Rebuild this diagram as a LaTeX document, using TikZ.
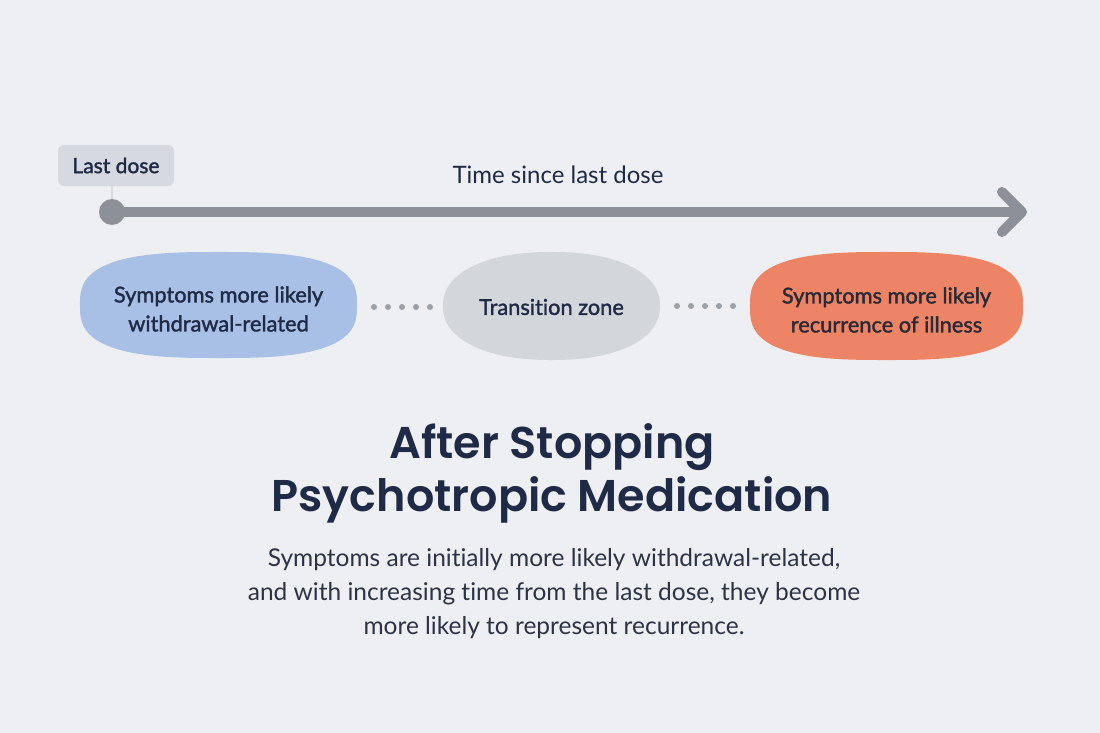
\documentclass[tikz,border=0pt]{standalone}
\usepackage{fontspec}
\setmainfont{Lato}[Ligatures={NoCommon}]
\newfontfamily\titlefont{Poppins SemiBold}
\newfontfamily\medfont[FakeBold=1.6,Ligatures={NoCommon}]{Lato}
\usetikzlibrary{calc}
\definecolor{bg}{HTML}{EEEFF2}
\definecolor{navy}{HTML}{1F2B46}
\definecolor{axis}{HTML}{8C9199}
\definecolor{tagfill}{HTML}{D6DAE0}
\definecolor{bluefill}{HTML}{A9C0E6}
\definecolor{grayfill}{HTML}{D3D6DB}
\definecolor{orangefill}{HTML}{EE8466}
\definecolor{dotgray}{HTML}{9CA1A8}
\definecolor{bodytxt}{HTML}{2B3345}
\definecolor{orangetxt}{HTML}{2A2A36}
\tikzset{
  blobtext/.style={align=center, font=\medfont\fontsize{21.8}{29}\selectfont, text=navy, inner sep=0pt},
  dotline/.style={dotgray, line width=6pt, line cap=round, dash pattern=on 0pt off 14pt},
}
% superellipse: #1 centre, #2 half width, #3 half height, #4 exponent 2/n, #5 colour
\newcommand{\superblob}[5]{%
  \fill[#5, shift={(#1)}] plot[domain=1:361, samples=121, variable=\t, smooth]
    ({#2*sign(cos(\t))*abs(cos(\t))^(#4)}, {#3*sign(sin(\t))*abs(sin(\t))^(#4)}) -- cycle;}
\begin{document}
\begin{tikzpicture}[x=1pt,y=-1pt]
\fill[bg] (0,0) rectangle (1100,733);
\useasboundingbox (0,0) rectangle (1100,733);
% tag
\node[fill=tagfill, rounded corners=6pt, minimum width=116pt, minimum height=41pt,
  font=\medfont\fontsize{21}{24}\selectfont, text=navy, inner sep=0pt] (tag) at (116,165.5) {Last dose};
\node[circle, fill=axis, minimum size=26pt, inner sep=0pt] (dot) at (112,212) {};
\draw[tagfill, line width=2.5pt] (tag.south -| dot) -- (dot.north);
% axis
\coordinate (tip) at (1022,212);
\draw[axis, line width=10pt] (dot.center) -- ($(tip)+(-6,0)$);
\draw[axis, line width=10pt, line cap=round, line join=round] (1002,192) -- (tip) -- (1002,232);
\node[font=\fontsize{24}{28}\selectfont, text=navy] (tlabel) at (558,175) {Time since last dose};
% blobs
\coordinate (bluec) at (218.5,305);
\coordinate (grayc) at (551.5,306);
\coordinate (orangec) at (886.5,306);
\superblob{bluec}{138.5}{53}{0.7}{bluefill}
\superblob{grayc}{108.5}{54}{0.9}{grayfill}
\superblob{orangec}{136.5}{54}{0.7}{orangefill}
\node[blobtext] (blue) at ($(bluec)+(0,4)$) {Symptoms more likely\\withdrawal-related};
\node[blobtext] (gray) at ($(grayc)+(0,1)$) {Transition zone};
\node[blobtext, text=orangetxt] (orange) at ($(orangec)+(0,4)$) {Symptoms more likely\\recurrence of illness};
\coordinate (d1a) at (374,307); \coordinate (d1b) at (431,307);
\coordinate (d2a) at (677,306); \coordinate (d2b) at (734,306);
\draw[dotline] (d1a) -- (d1b);
\draw[dotline] (d2a) -- (d2b);
% title
\node[font=\titlefont\fontsize{44.5}{53}\selectfont, text=navy, align=center] (title) at (552,473) {After Stopping\\Psychotropic Medication};
\node[font=\fontsize{24.5}{34}\selectfont, text=bodytxt, align=center] (body) at (554,594)
 {Symptoms are initially more likely withdrawal-related,\\and with increasing time from the last dose, they become\\more likely to represent recurrence.};
\end{tikzpicture}
\end{document}
